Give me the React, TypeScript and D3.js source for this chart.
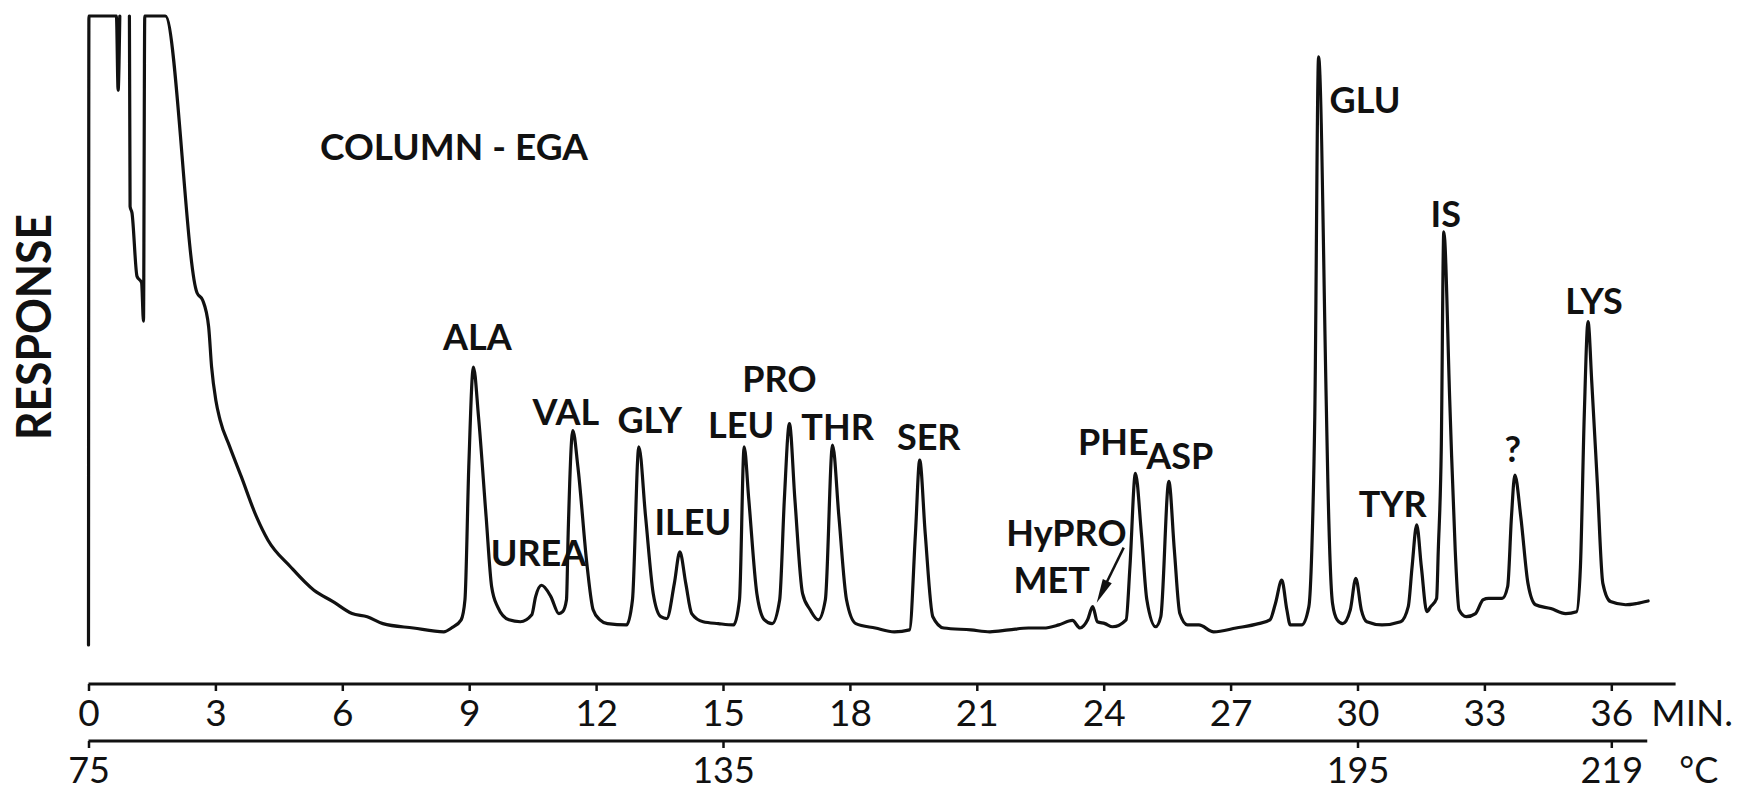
import React, { useEffect, useRef } from "react";
import * as d3 from "d3";

const WIDTH = 1737;
const HEIGHT = 791;
const INK = "#111";
const FONT = "Lato, 'DejaVu Sans', sans-serif";

// recorder trace: time (min) and response (% of full scale)
// null = pen off the top of the paper
const traceTime = [
  0, 0.01, 0.66, 0.70, 0.74, 0.85, 0.967, 0.983, 1.028, 1.147, 1.255, 1.30, 1.33, 1.816,
  2.565, 2.70, 2.84, 2.91, 3.01, 3.11, 3.34, 3.61, 3.97, 4.24, 4.78, 5.33, 5.78, 6.23,
  6.59, 6.96, 7.68, 8.40, 8.58, 8.81, 8.90, 8.99, 9.10, 9.22, 9.40, 9.53, 9.67, 9.94,
  10.21, 10.48, 10.57, 10.71, 10.93, 11.12, 11.21, 11.30, 11.34, 11.45, 11.57, 11.79, 11.93,
  12.09, 12.27, 12.72, 12.86, 13.01, 13.17, 13.35, 13.53, 13.67, 13.85, 13.98, 14.12, 14.26,
  14.53, 14.89, 15.25, 15.39, 15.50, 15.61, 15.80, 15.98, 16.16, 16.34, 16.45, 16.57, 16.70,
  16.88, 17.06, 17.25, 17.42, 17.59, 17.74, 17.92, 18.14, 18.60, 19.05, 19.41, 19.55, 19.65,
  19.78, 19.96, 20.22, 20.86, 21.31, 21.76, 22.22, 22.58, 22.94, 23.26, 23.44, 23.62, 23.74,
  23.85, 24.03, 24.21, 24.53, 24.62, 24.75, 24.89, 25.02, 25.23, 25.35, 25.54, 25.67, 25.80,
  25.98, 26.25, 26.60, 27.13, 27.66, 27.93, 28.06, 28.21, 28.33, 28.41, 28.68, 28.85, 28.92,
  28.99, 29.08, 29.26, 29.30, 29.41, 29.52, 29.65, 29.83, 29.96, 30.09, 30.22, 30.58, 31.02,
  31.20, 31.29, 31.40, 31.51, 31.64, 31.73, 31.87, 31.91, 31.98, 32.04, 32.18, 32.22, 32.31,
  32.40, 32.57, 32.79, 32.97, 33.10, 33.42, 33.55, 33.64, 33.72, 33.86, 34.03, 34.21, 34.57,
  34.92, 35.18, 35.27, 35.36, 35.45, 35.54, 35.67, 35.80, 35.98, 36.34, 36.60, 36.87,
];
const traceResponse: (number | null)[] = [
  0, 100, 100, 88.2, 100, null, 100, 69.7, 68.7, 58.6, 57.6, 51.5, 100, 100,
  56.0, 54.8, 50.6, 44.2, 38.9, 35.8, 31.5, 26.8, 20.4, 16.7, 12.4, 8.7, 6.9, 5.0,
  4.5, 3.4, 2.7, 2.1, 2.7, 4.0, 7.2, 28.3, 44.2, 36.3, 20.4, 9.3, 6.1, 4.0,
  3.7, 4.8, 7.7, 9.5, 7.7, 5.0, 5.3, 7.2, 17.8, 34.1, 28.3, 12.4, 5.6,
  4.0, 3.4, 3.2, 7.2, 31.5, 20.4, 8.2, 4.5, 4.2, 9.8, 14.8, 9.8, 5.0,
  3.7, 3.4, 3.2, 7.2, 31.5, 23.1, 8.2, 4.0, 3.4, 7.2, 23.1, 35.2, 23.1,
  8.2, 5.6, 4.0, 7.2, 31.8, 20.4, 7.2, 3.4, 2.7, 2.1, 2.4, 17.8, 29.4,
  17.8, 4.5, 2.7, 2.4, 2.1, 2.4, 2.7, 2.7, 3.2, 3.9, 2.7, 4.0, 6.1,
  3.7, 3.4, 2.9, 4.0, 12.4, 27.3, 17.8, 7.2, 2.9, 4.5, 26.0, 15.1, 5.0,
  3.2, 3.2, 2.1, 2.7, 3.4, 4.0, 6.6, 10.3, 5.6, 3.2, 3.2, 6.1, 15.1,
  36.3, 93.5, 39.0, 25.7, 6.6, 4.0, 3.4, 5.6, 10.6, 5.6, 3.7, 3.2, 3.7,
  6.1, 12.4, 19.1, 12.4, 5.3, 6.1, 7.4, 15.1, 31.0, 65.7, 39.0, 31.0, 15.1,
  5.6, 4.5, 5.0, 7.2, 7.4, 7.4, 9.3, 20.4, 27.0, 20.4, 9.8, 6.4, 5.8,
  5.0, 5.3, 12.4, 36.3, 51.4, 41.6, 25.7, 9.8, 6.9, 6.4, 6.6, 7.0,
];

const peakNames = [
  "ALA", "UREA", "VAL", "GLY", "ILEU", "LEU", "PRO", "THR", "SER",
  "HyPRO", "MET", "PHE", "ASP", "GLU", "TYR", "IS", "?", "LYS",
];
const peakTimes = [
  9.10, 10.71, 11.45, 13.01, 13.98, 15.50, 16.57, 17.59, 19.65,
  23.26, 23.74, 24.75, 25.54, 29.08, 31.40, 32.04, 33.72, 35.45,
];

const minuteTicks = [0, 3, 6, 9, 12, 15, 18, 21, 24, 27, 30, 33, 36];
const tempTicks = [75, 135, 195, 219];

// label placement relative to the peak tip, in px: [dx, dy, anchor]
const labelOffset: Record<string, [number, number, string]> = {
  ALA: [4, -17, "middle"],
  UREA: [-3, -19, "middle"],
  VAL: [-7, -6, "middle"],
  GLY: [11, -14, "middle"],
  ILEU: [13, -17, "middle"],
  LEU: [-3, -9, "middle"],
  PRO: [-10, -32, "middle"],
  THR: [5, -5, "middle"],
  SER: [9, -10, "middle"],
  HyPRO: [-6, -74, "middle"],
  MET: [-41, -14, "middle"],
  PHE: [-22, -18, "middle"],
  ASP: [11, -12, "middle"],
  GLU: [11, 56, "start"],
  TYR: [-24, -8, "middle"],
  IS: [2, -5, "middle"],
  "?": [-2, -13, "middle"],
  LYS: [6, -8, "middle"],
};

const AXIS_Y = 684;
const TEMP_Y = 741;

export default function App() {
  const ref = useRef<SVGSVGElement>(null);

  useEffect(() => {
    const svg = d3.select(ref.current);
    svg.selectAll("*").remove();

    const x = d3.scaleLinear().domain([0, 36]).range([88.5, 1611.3]);
    const y = d3.scaleLinear().domain([0, 100]).range([645, 16]);
    const temp = d3.scaleLinear().domain([75, 219]).range([x(0), x(36)]);

    const points = traceTime.map((t, i) => ({ t, r: traceResponse[i] }));

    const line = d3.line<{ t: number; r: number | null }>()
      .defined(d => d.r !== null)
      .x(d => x(d.t))
      .y(d => y(d.r as number))
      .curve(d3.curveMonotoneX);

    svg.append("path")
      .attr("d", line(points))
      .attr("fill", "none")
      .attr("stroke", INK)
      .attr("stroke-width", 3.2)
      .attr("stroke-linejoin", "round")
      .attr("stroke-linecap", "round");

    // peak labels
    const tip = (t: number) => {
      const i = d3.minIndex(traceTime, v => Math.abs(v - t));
      return { px: x(traceTime[i]), py: y(traceResponse[i] as number) };
    };

    peakNames.forEach((name, i) => {
      const { px, py } = tip(peakTimes[i]);
      const [dx, dy, anchor] = labelOffset[name];
      svg.append("text")
        .text(name)
        .attr("x", px + dx)
        .attr("y", py + dy)
        .attr("text-anchor", anchor)
        .attr("font-family", FONT)
        .attr("font-weight", 700)
        .attr("font-size", 36)
        .attr("fill", INK);
    });

    // arrow from the HyPRO/MET label down to the MET peak
    const met = tip(peakTimes[peakNames.indexOf("MET")]);
    const ax1 = met.px + 31, ay1 = met.py - 59;
    const ax2 = met.px + 4, ay2 = met.py - 4;
    const ang = Math.atan2(ay2 - ay1, ax2 - ax1);
    const headLen = 24, headW = 5;
    svg.append("line")
      .attr("x1", ax1).attr("y1", ay1)
      .attr("x2", ax2 - Math.cos(ang) * headLen * 0.6)
      .attr("y2", ay2 - Math.sin(ang) * headLen * 0.6)
      .attr("stroke", INK).attr("stroke-width", 2.5);
    const bx = ax2 - Math.cos(ang) * headLen, by = ay2 - Math.sin(ang) * headLen;
    svg.append("path")
      .attr("d", `M${ax2},${ay2} L${bx - Math.sin(ang) * headW},${by + Math.cos(ang) * headW} L${bx + Math.sin(ang) * headW},${by - Math.cos(ang) * headW} Z`)
      .attr("fill", INK);

    // titles
    svg.append("text")
      .text("COLUMN - EGA")
      .attr("x", 320).attr("y", 160)
      .attr("font-family", FONT).attr("font-weight", 700).attr("font-size", 37)
      .attr("fill", INK);

    svg.append("text")
      .text("RESPONSE")
      .attr("transform", "translate(51,327) rotate(-90)")
      .attr("text-anchor", "middle")
      .attr("textLength", 226)
      .attr("lengthAdjust", "spacingAndGlyphs")
      .attr("font-family", FONT).attr("font-weight", 700).attr("font-size", 48)
      .attr("fill", INK);

    // time axis
    const minAxis = svg.append("g")
      .attr("transform", `translate(0,${AXIS_Y})`)
      .call(d3.axisBottom(x).tickValues(minuteTicks).tickSize(7).tickSizeOuter(0).tickFormat(d3.format("d")));
    minAxis.select(".domain").remove();
    minAxis.selectAll("line").attr("stroke", INK).attr("stroke-width", 2.5);
    minAxis.selectAll("text")
      .attr("y", 42).attr("dy", 0)
      .attr("fill", INK)
      .attr("font-family", FONT).attr("font-size", 37);
    minAxis.append("line")
      .attr("x1", x(0)).attr("x2", x(37.52))
      .attr("stroke", INK).attr("stroke-width", 3);
    minAxis.append("text")
      .text("MIN.")
      .attr("x", x(36) + 40).attr("y", 42)
      .attr("text-anchor", "start")
      .attr("fill", INK)
      .attr("font-family", FONT).attr("font-size", 37);

    // temperature axis
    const tAxis = svg.append("g")
      .attr("transform", `translate(0,${TEMP_Y})`)
      .call(d3.axisBottom(temp).tickValues(tempTicks).tickSize(7).tickSizeOuter(0).tickFormat(d3.format("d")));
    tAxis.select(".domain").remove();
    tAxis.selectAll("line").attr("stroke", INK).attr("stroke-width", 2.5);
    tAxis.selectAll("text")
      .attr("y", 42).attr("dy", 0)
      .attr("fill", INK)
      .attr("font-family", FONT).attr("font-size", 36);
    tAxis.append("line")
      .attr("x1", temp(75)).attr("x2", temp(222.4))
      .attr("stroke", INK).attr("stroke-width", 3);
    tAxis.append("text")
      .text("°C")
      .attr("x", temp(219) + 68).attr("y", 42)
      .attr("text-anchor", "start")
      .attr("fill", INK)
      .attr("font-family", FONT).attr("font-size", 36);
  }, []);

  return (
    <svg
      ref={ref}
      width={WIDTH}
      height={HEIGHT}
      style={{ position: "absolute", left: 0, top: 0, display: "block", background: "#fff" }}
    />
  );
}
